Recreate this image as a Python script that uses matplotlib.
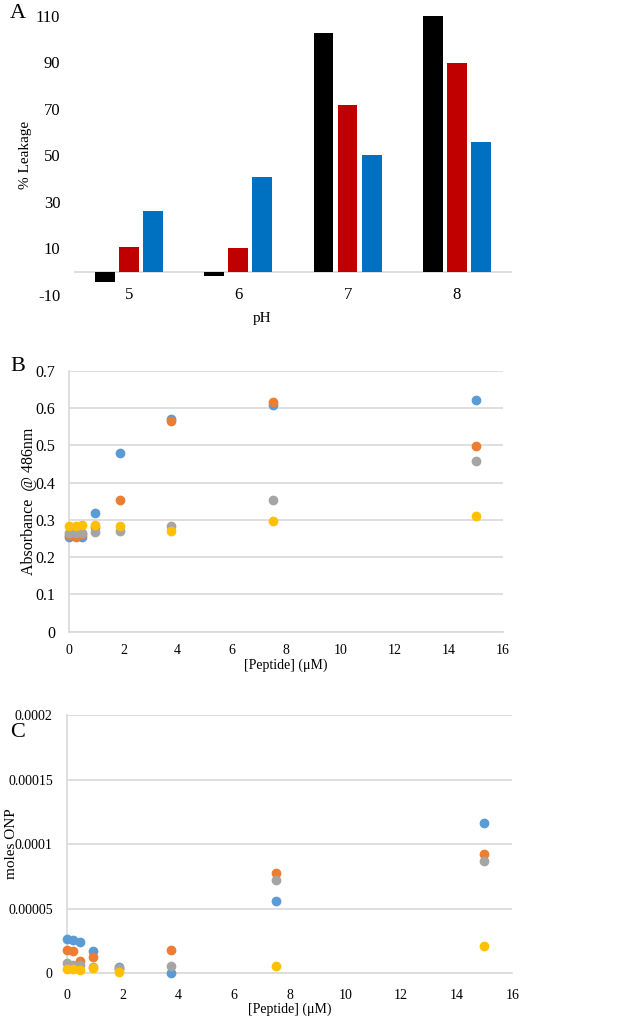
import numpy as np
import matplotlib
matplotlib.use("Agg")
import matplotlib.pyplot as plt

plt.rcParams['font.family'] = ['Liberation Serif', 'DejaVu Serif']
plt.rcParams['axes.unicode_minus'] = False

# --- panel A: % leakage vs pH
ph_labels = ['5', '6', '7', '8']
leak_black = [-4.6, -1.7, 102.7, 110.0]
leak_red = [10.8, 10.0, 71.5, 89.9]
leak_blue = [25.9, 40.5, 50.2, 55.8]
a_ticks = [-10, 10, 30, 50, 70, 90, 110]

# --- panels B and C: peptide concentration (uM)
peptide = [0, 0.234375, 0.46875, 0.9375, 1.875, 3.75, 7.5, 15]

abs_blue = [0.255, 0.257, 0.255, 0.318, 0.480, 0.571, 0.607, 0.621]
abs_orange = [0.259, 0.253, 0.262, 0.280, 0.352, 0.566, 0.616, 0.498]
abs_gray = [0.264, 0.264, 0.265, 0.268, 0.271, 0.284, 0.352, 0.459]
abs_yellow = [0.283, 0.283, 0.285, 0.287, 0.283, 0.271, 0.298, 0.310]
b_tick_labels = ['0', '0.1', '0.2', '0.3', '0.4', '0.5', '0.6', '0.7']

onp_blue = [2.63e-5, 2.58e-5, 2.40e-5, 1.73e-5, 5.1e-6, 5e-7, 5.63e-5, 1.161e-4]
onp_orange = [1.81e-5, 1.75e-5, 9.8e-6, 1.24e-5, 3.0e-6, 1.81e-5, 7.79e-5, 9.21e-5]
onp_gray = [7.7e-6, 6.2e-6, 6.2e-6, 5.0e-6, 4.4e-6, 5.7e-6, 7.23e-5, 8.72e-5]
onp_yellow = [3.1e-6, 3.4e-6, 2.3e-6, 4.4e-6, 1.2e-6, np.nan, 6.0e-6, 2.1e-5]
c_ticks = [0, 0.00005, 0.0001, 0.00015, 0.0002]
c_tick_labels = ['0', '0.00005', '0.0001', '0.00015', '0.0002']

fig = plt.figure(figsize=(6.18, 10.22), dpi=100)
grid_col = '#d9d9d9'

# panel A
axA = fig.add_axes([0.120, 0.7114, 0.708, 0.2732])
x = np.arange(len(ph_labels))
w = 0.18
for off, vals, col in [(-0.22, leak_black, 'black'), (0, leak_red, '#c00000'), (0.22, leak_blue, '#0070c0')]:
    axA.bar(x + off, vals, width=w, color=col)
axA.axhline(0, color=grid_col, lw=1.2, zorder=0)
axA.set_xlim(-0.5, len(ph_labels) - 0.5)
axA.set_ylim(-10, 110)
axA.set_yticks(a_ticks)
axA.set_xticks(x)
axA.set_xticklabels(ph_labels)
for s in axA.spines.values():
    s.set_visible(False)
axA.tick_params(length=0, labelsize=12)
axA.tick_params(axis='x', pad=-6)
axA.tick_params(axis='y', pad=10)
axA.set_ylabel('% Leakage', fontsize=11)
axA.yaxis.set_label_coords(-0.096, 0.5)
axA.set_xlabel('pH', fontsize=11)
axA.xaxis.set_label_coords(0.429, -0.06)
fig.text(0.029, 0.987, 'A', fontsize=16, va='center', ha='center')


def scatter_panel(ax, series):
    for vals, col in zip(series, ['#5b9bd5', '#ed7d31', '#a5a5a5', '#ffc000']):
        ax.scatter(peptide, vals, s=36, color=col, zorder=3, clip_on=False)
    ax.set_xlim(0, 16)
    ax.set_xticks(range(0, 17, 2))
    ax.grid(axis='y', color=grid_col, lw=1.2)
    ax.set_axisbelow(True)
    for k in ['top', 'right']:
        ax.spines[k].set_visible(False)
    for k in ['left', 'bottom']:
        ax.spines[k].set_color(grid_col)
        ax.spines[k].set_linewidth(1.2)
    ax.tick_params(length=0)
    ax.tick_params(axis='x', labelsize=10, pad=9)
    ax.set_xlabel('[Peptide] (μM)', fontsize=10, labelpad=1)


# panel B
axB = fig.add_axes([0.112, 0.3819, 0.702, 0.2554])
scatter_panel(axB, [abs_blue, abs_orange, abs_gray, abs_yellow])
axB.set_ylim(0, 0.7)
axB.set_yticks(np.linspace(0, 0.7, len(b_tick_labels)))
axB.set_yticklabels(b_tick_labels)
axB.tick_params(axis='y', labelsize=11.5, pad=10)
axB.set_ylabel('Absorbance  @ 486nm', fontsize=11.5)
axB.yaxis.set_label_coords(-0.074, 0.5)
fig.text(0.029, 0.641, 'B', fontsize=16, va='center', ha='center')

# panel C
axC = fig.add_axes([0.108, 0.0477, 0.721, 0.2527])
scatter_panel(axC, [onp_blue, onp_orange, onp_gray, onp_yellow])
axC.set_ylim(0, 0.0002)
axC.set_yticks(c_ticks)
axC.set_yticklabels(c_tick_labels)
axC.tick_params(axis='y', labelsize=10, pad=10)
axC.tick_params(axis='x', pad=11)
axC.set_ylabel('moles ONP', fontsize=11)
axC.yaxis.set_label_coords(-0.109, 0.5)
fig.text(0.029, 0.283, 'C', fontsize=16, va='center', ha='center')

fig.savefig('out.png', dpi=100)
